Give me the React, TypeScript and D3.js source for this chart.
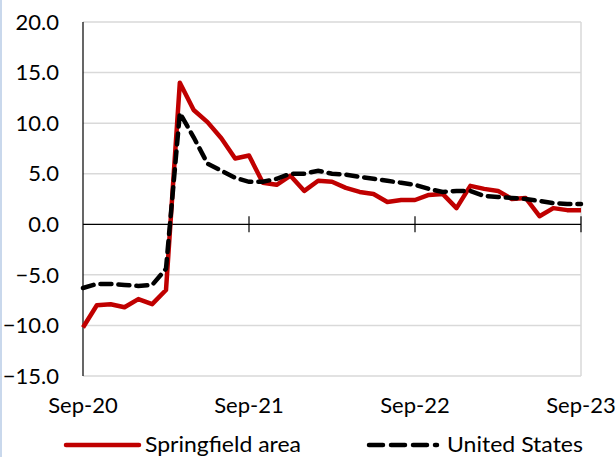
import {useEffect, useRef} from 'react';
import * as d3 from 'd3';

// monthly values, Sep-20 .. Sep-23
const springfield = [
  -10.2, -8.0, -7.9, -8.2, -7.4, -7.9, -6.5, 14.0, 11.3, 10.1, 8.5, 6.5, 6.8,
  4.1, 3.9, 4.8, 3.3, 4.3, 4.2, 3.6, 3.2, 3.0, 2.2, 2.4, 2.4, 2.9, 3.0, 1.6,
  3.8, 3.5, 3.3, 2.5, 2.6, 0.8, 1.6, 1.4, 1.4
];
const unitedStates = [
  -6.3, -5.9, -5.9, -6.0, -6.1, -6.0, -4.4, 11.0, 8.6, 6.0, 5.3, 4.6, 4.2,
  4.2, 4.5, 5.0, 5.0, 5.3, 5.0, 4.9, 4.7, 4.5, 4.3, 4.1, 3.9, 3.5, 3.2, 3.3,
  3.3, 2.8, 2.7, 2.6, 2.5, 2.3, 2.1, 2.0, 2.0
];
const xTicks = [0, 12, 24, 36];
const xTickLabels = ['Sep-20', 'Sep-21', 'Sep-22', 'Sep-23'];
const yTicks = [-15, -10, -5, 0, 5, 10, 15, 20];
const seriesNames = ['Springfield area', 'United States'];

// parameters
const width = 616;
const height = 457;
const left = 83;
const right = 581;
const top = 22;
const bottom = 376;
const font = 'Lato, "Open Sans", sans-serif';
const fontSize = '22px';

export default function App() {
  const ref = useRef(null);
  useEffect(() => {
    if (!ref.current) return;
    const svg = d3.select(ref.current);
    svg.selectAll('*').remove();

    const x = d3.scaleLinear().domain([0, 36]).range([left, right]);
    const y = d3.scaleLinear().domain([-15, 20]).range([bottom, top]);

    // left border strip
    svg.append('rect')
      .attr('x', 0).attr('y', 0).attr('width', 2).attr('height', height)
      .attr('fill', '#c9d8ec');

    // gridlines
    svg.append('g')
      .selectAll('line')
      .data(yTicks.filter(d => d !== 0))
      .enter()
      .append('line')
      .attr('x1', left).attr('x2', right)
      .attr('y1', d => y(d)).attr('y2', d => y(d))
      .attr('stroke', '#d9d9d9')
      .attr('stroke-width', 1.5);
    // right border
    svg.append('line')
      .attr('x1', right).attr('x2', right)
      .attr('y1', top).attr('y2', bottom)
      .attr('stroke', '#d9d9d9')
      .attr('stroke-width', 1.5);

    // y axis
    svg.append('line')
      .attr('x1', left).attr('x2', left)
      .attr('y1', top).attr('y2', bottom)
      .attr('stroke', '#000')
      .attr('stroke-width', 1.2);
    svg.append('g')
      .selectAll('text')
      .data(yTicks)
      .enter()
      .append('text')
      .attr('x', 59)
      .attr('y', d => y(d))
      .attr('dy', '0.35em')
      .attr('text-anchor', 'end')
      .style('font-family', font)
      .style('font-size', fontSize)
      .attr('fill', '#000')
      .text(d => d3.format('.1f')(d));

    // x axis at zero
    svg.append('line')
      .attr('x1', left).attr('x2', right)
      .attr('y1', y(0)).attr('y2', y(0))
      .attr('stroke', '#000')
      .attr('stroke-width', 1.2);
    svg.append('g')
      .selectAll('line')
      .data(xTicks.slice(1))
      .enter()
      .append('line')
      .attr('x1', d => x(d)).attr('x2', d => x(d))
      .attr('y1', y(0) - 8).attr('y2', y(0) + 8)
      .attr('stroke', '#000')
      .attr('stroke-width', 1.2);
    svg.append('g')
      .selectAll('text')
      .data(xTicks)
      .enter()
      .append('text')
      .attr('x', d => x(d))
      .attr('y', 413)
      .attr('text-anchor', 'middle')
      .style('font-family', font)
      .style('font-size', fontSize)
      .attr('fill', '#000')
      .text((d, i) => xTickLabels[i]);

    // lines
    const line = d3.line<number>()
      .x((d, i) => x(i))
      .y(d => y(d));
    svg.append('path')
      .attr('d', line(springfield))
      .attr('fill', 'none')
      .attr('stroke', '#c00000')
      .attr('stroke-width', 4.5)
      .attr('stroke-linejoin', 'round');
    svg.append('path')
      .attr('d', line(unitedStates))
      .attr('fill', 'none')
      .attr('stroke', '#000')
      .attr('stroke-width', 4.5)
      .attr('stroke-dasharray', '11 7')
      .attr('stroke-linecap', 'round');

    // legend
    const ly = 445;
    svg.append('line')
      .attr('x1', 66).attr('x2', 139)
      .attr('y1', ly).attr('y2', ly)
      .attr('stroke', '#c00000')
      .attr('stroke-width', 4.5)
      .attr('stroke-linecap', 'round');
    svg.append('text')
      .attr('x', 145).attr('y', 452)
      .attr('textLength', 156)
      .attr('lengthAdjust', 'spacingAndGlyphs')
      .style('font-family', font)
      .style('font-size', fontSize)
      .text(seriesNames[0]);
    svg.append('line')
      .attr('x1', 369).attr('x2', 437)
      .attr('y1', ly).attr('y2', ly)
      .attr('stroke', '#000')
      .attr('stroke-width', 4.5)
      .attr('stroke-dasharray', '14 8')
      .attr('stroke-linecap', 'round');
    svg.append('text')
      .attr('x', 447).attr('y', 452)
      .attr('textLength', 136)
      .attr('lengthAdjust', 'spacingAndGlyphs')
      .style('font-family', font)
      .style('font-size', fontSize)
      .text(seriesNames[1]);
  }, []);
  return <svg
    ref={ref}
    width={width}
    height={height}
    style={{position: 'absolute', left: 0, top: 0, background: '#fff'}}
  />;
}
